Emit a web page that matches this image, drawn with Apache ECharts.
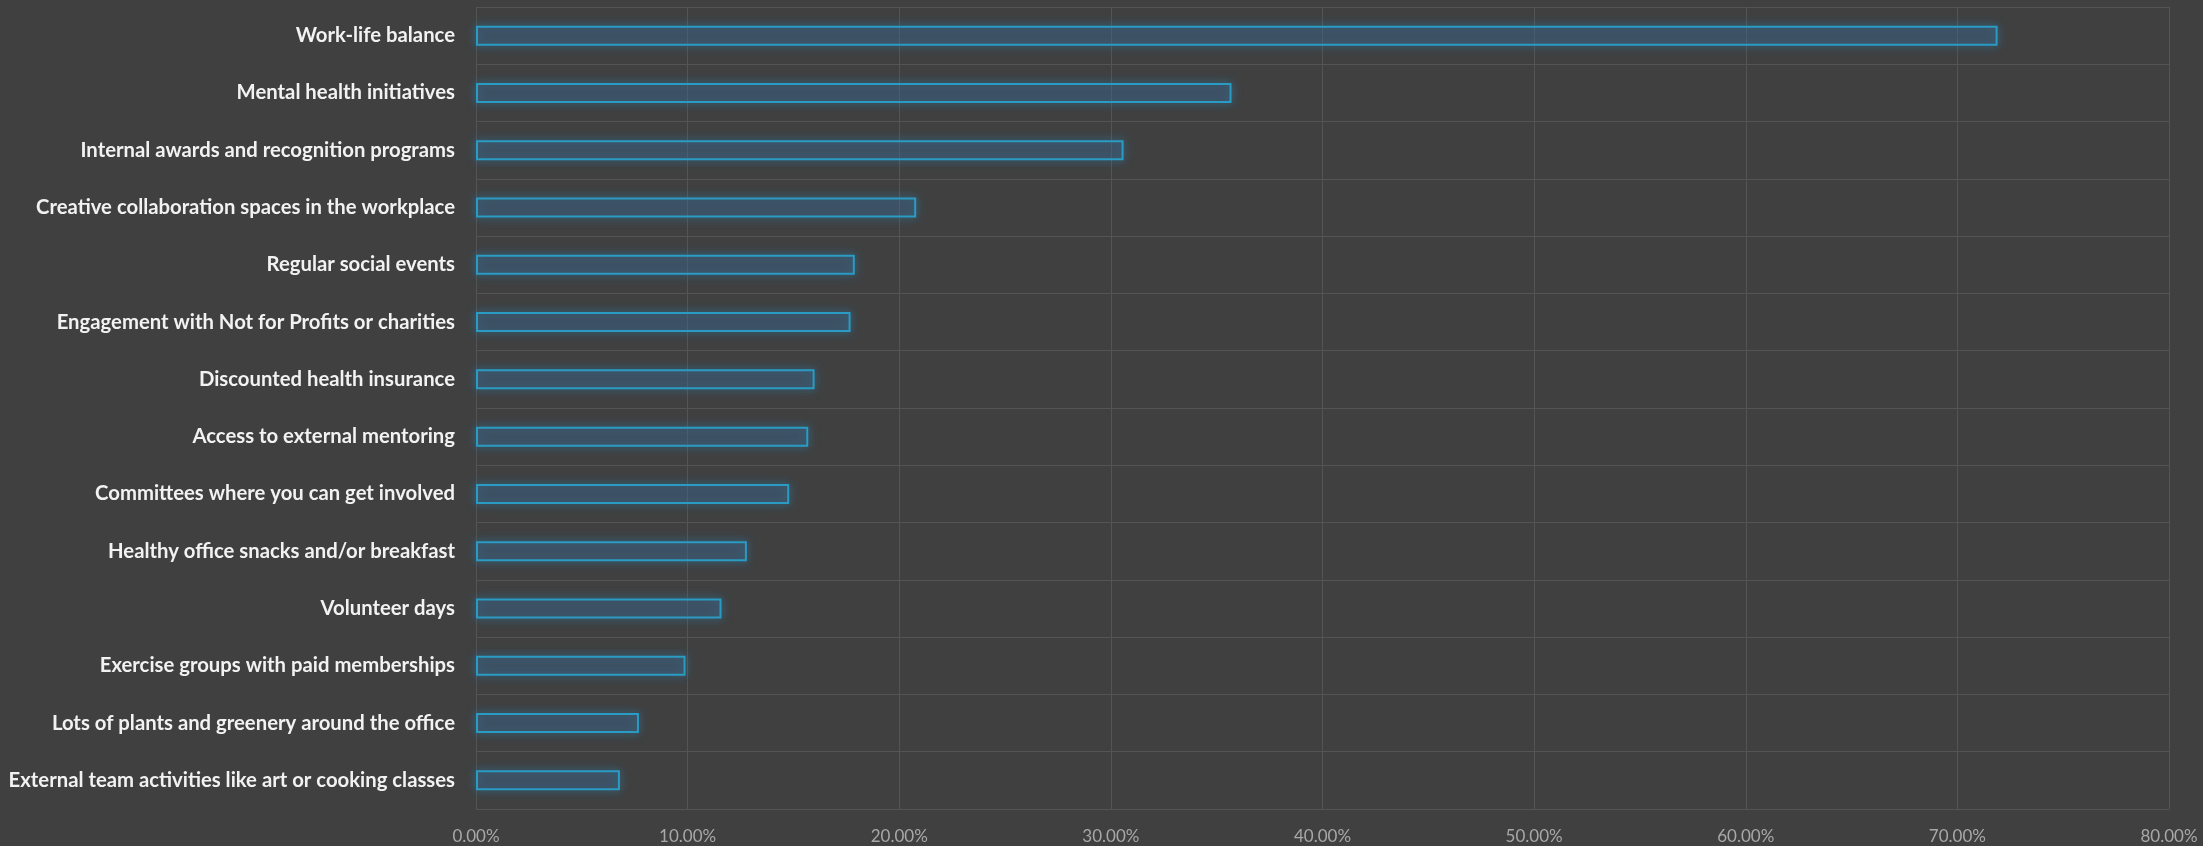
<!DOCTYPE html>
<html>
<head>
<meta charset="utf-8">
<style>
  html, body { margin: 0; padding: 0; background: #404040; }
  #chart { width: 2203px; height: 846px; }
</style>
<script src="https://cdn.jsdelivr.net/npm/echarts@6/dist/echarts.min.js"></script>
</head>
<body>
<div id="chart"></div>
<script>
const categories = [
  "Work-life balance",
  "Mental health initiatives",
  "Internal awards and recognition programs",
  "Creative collaboration spaces in the workplace",
  "Regular social events",
  "Engagement with Not for Profits or charities",
  "Discounted health insurance",
  "Access to external mentoring",
  "Committees where you can get involved",
  "Healthy office snacks and/or breakfast",
  "Volunteer days",
  "Exercise groups with paid memberships",
  "Lots of plants and greenery around the office",
  "External team activities like art or cooking classes"
];
const values = [71.9, 35.7, 30.6, 20.8, 17.9, 17.7, 16.0, 15.7, 14.8, 12.8, 11.6, 9.9, 7.7, 6.8];
const xTicks = { min: 0, max: 80, interval: 10 };

const chart = echarts.init(document.getElementById('chart'));
chart.setOption({
  backgroundColor: '#404040',
  animation: false,
  grid: { left: 476, right: 34, top: 7, bottom: 37, containLabel: false },
  xAxis: {
    type: 'value',
    min: xTicks.min, max: xTicks.max, interval: xTicks.interval,
    axisLine: { show: false },
    axisTick: { show: false },
    splitLine: { show: true, lineStyle: { color: '#545454', width: 1 } },
    axisLabel: {
      color: '#a8a8a8', fontFamily: 'Lato', fontSize: 17, margin: 19,
      formatter: v => v.toFixed(2) + '%'
    }
  },
  yAxis: {
    type: 'category',
    data: categories,
    inverse: true,
    axisLine: { show: false },
    axisTick: { show: false },
    splitLine: { show: true, lineStyle: { color: '#545454', width: 1 } },
    axisLabel: {
      color: '#f2f2f2', fontFamily: 'Lato', fontWeight: 'bold', fontSize: 20.3, margin: 21
    }
  },
  series: [{
    type: 'bar',
    data: values,
    barWidth: 20,
    itemStyle: {
      color: 'rgba(70,80,110,0.25)',
      borderColor: '#2a9cc4',
      borderWidth: 2,
      shadowBlur: 10,
      shadowColor: 'rgba(40,150,210,0.75)'
    }
  }]
});
</script>
</body>
</html>
